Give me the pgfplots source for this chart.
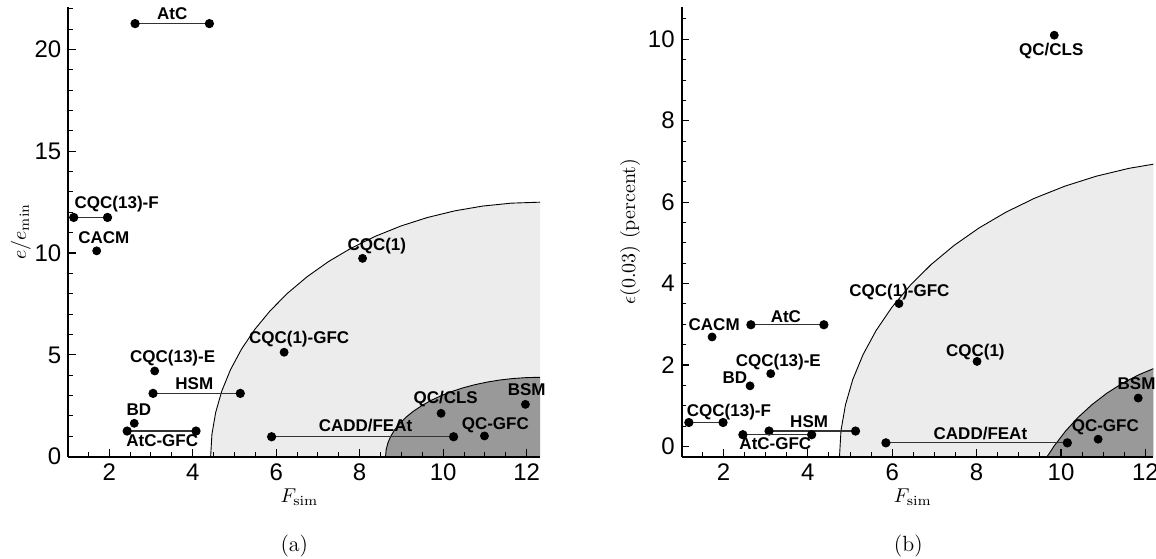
\documentclass[border=0pt]{standalone}
\usepackage{fontspec}
\usepackage{pgfplots}
\pgfplotsset{compat=1.18}
\newfontfamily\arial{Liberation Sans}
\tikzset{lbl/.style={font=\arial\bfseries\fontsize{8.5}{9}\selectfont, inner sep=0pt, anchor=base}}
\pgfplotsset{
  common/.style={
    scale only axis, width=235.85pt, height=225pt,
    axis x line=bottom, axis y line=left,
    axis line style={-, line width=0.9pt},
    axis on top=true, clip mode=individual,
    tick align=inside, major tick length=3.8pt, minor tick length=2.2pt,
    major tick style={black, line width=0.6pt},
    minor tick style={black, line width=0.5pt},
    xtick={0,2,...,14}, minor x tick num=3,
    /pgf/number format/assume math mode=true,
    tick label style={font=\arial\fontsize{12}{14}\selectfont},
    label style={font=\fontsize{12}{14}\selectfont},
    xlabel={$F_{\mathrm{sim}}$},
    every axis x label/.style={at={(axis description cs:0.49,-0.089)}, anchor=center},
  },
  lightreg/.style={fill=gray!15, draw=black, line width=0.45pt},
  darkreg/.style={fill=black!40, draw=black, line width=0.45pt},
  pair/.style={black!80, line width=0.6pt, mark=*, mark size=2pt, mark options={fill=black, draw=black}},
  dot/.style={only marks, mark=*, mark size=2pt, mark options={fill=black, draw=black}},
}
\begin{document}
\begin{tikzpicture}
% ---------------- (a) ----------------
\begin{axis}[common, at={(0,0)}, anchor=south west,
  xmin=1.02, xmax=12.32, ymin=0, ymax=22.1,
  ytick={0,5,...,25}, minor y tick num=4,
  ylabel={$e/e_{\min}$},
  every axis y label/.style={at={(axis description cs:-0.1003,0.5)}, rotate=90, anchor=center},
]
\addplot[lightreg] coordinates {
 (4.430,0) (4.460,1.090) (4.550,2.171) (4.699,3.235) (4.906,4.275) (5.169,5.283)
 (5.487,6.250) (5.857,7.170) (6.276,8.035) (6.741,8.839) (7.248,9.576) (7.794,10.239)
 (8.375,10.825) (8.986,11.329) (9.621,11.746) (10.278,12.074) (10.950,12.310)
 (11.632,12.452) (12.32,12.5) (12.6,12.5) (12.6,0)};
\addplot[darkreg] coordinates {
 (8.620,0) (8.634,0.340) (8.676,0.677) (8.746,1.009) (8.843,1.334) (8.967,1.648)
 (9.116,1.950) (9.289,2.237) (9.486,2.507) (9.704,2.758) (9.942,2.988) (10.198,3.195)
 (10.470,3.378) (10.756,3.535) (11.055,3.665) (11.362,3.767) (11.677,3.841)
 (11.998,3.885) (12.32,3.90) (12.6,3.90) (12.6,0)};
% pairs
\addplot[pair] coordinates {(2.62,21.27) (4.40,21.27)};   % AtC
\addplot[pair] coordinates {(1.15,11.75) (1.96,11.75)};   % CQC(13)-F
\addplot[pair] coordinates {(3.05,3.11) (5.14,3.11)};     % HSM
\addplot[pair] coordinates {(2.43,1.26) (4.08,1.26)};     % AtC-GFC
\addplot[pair] coordinates {(5.89,0.98) (10.25,0.98)};    % CADD/FEAt
% single points
\addplot[dot] coordinates {(1.70,10.11) (8.07,9.74) (6.19,5.13) (3.09,4.21)
 (2.60,1.64) (9.95,2.13) (10.99,1.02) (11.97,2.57)};
\node[lbl] at (axis cs:3.51,21.45) {AtC};
\node[lbl] at (axis cs:2.18,12.2) {CQC(13)-F};
\node[lbl] at (axis cs:1.87,10.47) {CACM};
\node[lbl] at (axis cs:8.41,10.15) {CQC(1)};
\node[lbl] at (axis cs:6.55,5.57) {CQC(1)-GFC};
\node[lbl] at (axis cs:3.52,4.62) {CQC(13)-E};
\node[lbl] at (axis cs:4.04,3.28) {HSM};
\node[lbl] at (axis cs:2.71,2.0) {BD};
\node[lbl] at (axis cs:3.27,0.49) {AtC-GFC};
\node[lbl] at (axis cs:8.14,1.23) {CADD/FEAt};
\node[lbl] at (axis cs:10.06,2.62) {QC/CLS};
\node[lbl] at (axis cs:11.25,1.36) {QC-GFC};
\node[lbl] at (axis cs:12.0,3.0) {BSM};
\end{axis}
% ---------------- (b) ----------------
\begin{axis}[common, at={(306.7pt,0)}, anchor=south west,
  xmin=1.01, xmax=12.19, ymin=-0.25, ymax=10.8,
  ytick={-2,0,...,12}, minor y tick num=3,
  ylabel={$\epsilon(0.03)$ (percent)},
  every axis y label/.style={at={(axis description cs:-0.1096,0.5)}, rotate=90, anchor=center},
]
\addplot[lightreg] coordinates {
 (4.750,-0.25) (4.785,0.389) (4.891,1.023) (5.065,1.647) (5.308,2.257) (5.617,2.848)
 (5.989,3.415) (6.423,3.954) (6.914,4.462) (7.459,4.933) (8.054,5.365) (8.694,5.754)
 (9.375,6.098) (10.091,6.393) (10.836,6.638) (11.606,6.830) (12.394,6.969) (12.6,6.969) (12.6,-0.25)};
\addplot[darkreg] coordinates {
 (9.669,-0.25) (9.839,0.017) (10.109,0.381) (10.408,0.719) (10.735,1.029) (11.086,1.309)
 (11.460,1.555) (11.853,1.767) (12.263,1.943) (12.685,2.081) (12.8,2.081) (12.8,-0.25)};
% pairs
\addplot[pair] coordinates {(2.65,2.99) (4.38,2.99)};     % AtC
\addplot[pair] coordinates {(1.18,0.59) (1.99,0.59)};     % CQC(13)-F
\addplot[pair] coordinates {(3.08,0.38) (5.13,0.38)};     % HSM
\addplot[pair] coordinates {(2.46,0.29) (4.09,0.29)};     % AtC-GFC
\addplot[pair] coordinates {(5.85,0.09) (10.15,0.09)};    % CADD/FEAt
% single points
\addplot[dot] coordinates {(9.84,10.10) (1.73,2.69) (3.12,1.79) (2.63,1.49)
 (6.16,3.51) (8.01,2.09) (10.88,0.18) (11.83,1.19)};
\node[lbl] at (axis cs:9.77,9.61) {QC/CLS};
\node[lbl] at (axis cs:6.17,3.68) {CQC(1)-GFC};
\node[lbl] at (axis cs:1.78,2.84) {CACM};
\node[lbl] at (axis cs:3.48,3.05) {AtC};
\node[lbl] at (axis cs:7.97,2.22) {CQC(1)};
\node[lbl] at (axis cs:3.30,1.96) {CQC(13)-E};
\node[lbl] at (axis cs:2.27,1.55) {BD};
\node[lbl] at (axis cs:2.13,0.73) {CQC(13)-F};
\node[lbl] at (axis cs:4.03,0.47) {HSM};
\node[lbl] at (axis cs:3.23,-0.08) {AtC-GFC};
\node[lbl] at (axis cs:8.09,0.18) {CADD/FEAt};
\node[lbl] at (axis cs:11.05,0.38) {QC-GFC};
\node[lbl] at (axis cs:11.79,1.39) {BSM};
\end{axis}
\node[font=\fontsize{11}{13}\selectfont] at (113pt,-44.8pt) {(a)};
\node[font=\fontsize{11}{13}\selectfont] at (420pt,-44.8pt) {(b)};
\pgfresetboundingbox
\path[use as bounding box] (-34.15pt,-50.65pt) rectangle (543.85pt,228.35pt);
\end{tikzpicture}
\end{document}
